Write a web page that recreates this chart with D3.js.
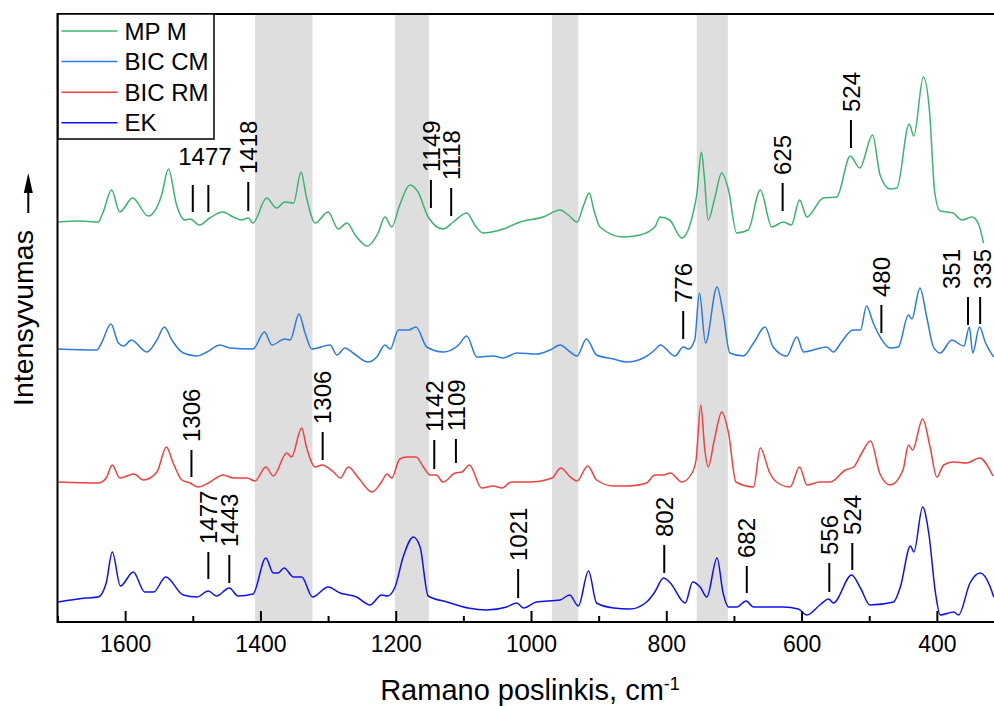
<!DOCTYPE html>
<html>
<head>
<meta charset="utf-8">
<script src="https://cdn.jsdelivr.net/npm/d3@7"></script>
<style>
  body { margin: 0; background: #fff; }
  svg { display: block; font-family: "Liberation Sans", Arial, sans-serif; }
</style>
</head>
<body>
<svg width="994" height="706"></svg>
<script>
// spectra: [Raman shift cm-1, stacked intensity a.u.]
const mpM = [[1699,400],[1667,401],[1640,400],[1633,409],[1620,432],[1608,410],[1589,424],[1566,406],[1546,427],[1536,453],[1524,417],[1512,402],[1504,403],[1490,397],[1475,404],[1456,410],[1440,405],[1428,402],[1418,404],[1411,399],[1391,424],[1376,414],[1364,420],[1351,419],[1340,450],[1332,425],[1319,399],[1300,410],[1285,393],[1272,399],[1260,387],[1242,376],[1226,389],[1216,405],[1206,395],[1194,417],[1179,437],[1167,430],[1152,405],[1130,393],[1115,400],[1095,409],[1083,397],[1071,389],[1041,393],[1016,400],[982,405],[957,412],[945,407],[932,400],[922,417],[914,429],[907,412],[898,395],[864,385],[839,387],[817,395],[809,405],[795,402],[777,384],[760,410],[755,427],[748,470],[744,447],[738,402],[729,422],[718,449],[708,432],[696,389],[679,392],[661,432],[644,395],[627,400],[615,397],[603,422],[592,405],[568,424],[548,425],[528,466],[514,454],[495,487],[484,447],[469,433],[459,434],[441,498],[434,486],[420,545],[411,512],[403,429],[395,411],[376,409],[363,402],[348,405],[339,399],[331,379]];
const bicCM = [[1699,273],[1642,272],[1635,279],[1621,298],[1610,279],[1602,276],[1591,282],[1568,270],[1553,282],[1542,295],[1531,282],[1514,269],[1494,266],[1479,270],[1460,277],[1445,274],[1411,273],[1394,290],[1383,277],[1364,283],[1356,282],[1343,308],[1334,289],[1324,273],[1297,277],[1287,267],[1275,274],[1263,269],[1241,260],[1228,265],[1216,277],[1208,273],[1196,292],[1181,292],[1170,295],[1154,275],[1130,270],[1107,277],[1095,286],[1080,265],[1056,266],[1041,264],[1021,269],[992,268],[972,272],[957,277],[942,270],[932,266],[918,283],[903,267],[878,263],[858,260],[834,264],[817,272],[809,277],[787,266],[775,275],[767,273],[758,282],[751,329],[742,279],[725,335],[716,309],[706,269],[686,266],[671,279],[654,295],[642,275],[622,266],[607,285],[597,270],[572,274],[563,275],[553,270],[541,280],[524,292],[513,292],[504,316],[494,299],[482,283],[469,274],[457,275],[442,307],[437,303],[425,334],[415,305],[405,275],[395,269],[378,282],[360,276],[352,295],[347,269],[337,295],[328,279],[316,265]];
const bicRM = [[1699,140],[1640,139],[1628,144],[1619,157],[1608,144],[1587,148],[1573,142],[1553,150],[1539,175],[1529,159],[1516,142],[1504,139],[1492,135],[1477,139],[1455,147],[1440,144],[1420,144],[1408,141],[1392,155],[1381,146],[1361,169],[1354,165],[1339,194],[1332,175],[1319,155],[1309,157],[1292,150],[1282,144],[1270,155],[1255,144],[1235,130],[1221,140],[1213,148],[1206,144],[1194,163],[1184,165],[1170,165],[1159,155],[1149,147],[1140,147],[1130,140],[1112,149],[1102,150],[1091,157],[1073,134],[1056,136],[1043,134],[1029,140],[1001,140],[969,144],[956,154],[942,145],[932,141],[916,156],[903,142],[878,136],[854,136],[829,139],[817,147],[804,147],[794,149],[777,140],[762,149],[756,162],[749,217],[743,172],[738,155],[729,182],[718,210],[708,189],[697,140],[671,135],[661,174],[647,149],[637,140],[617,135],[603,155],[592,137],[573,140],[558,140],[535,152],[523,155],[511,169],[498,181],[484,148],[469,137],[450,152],[442,177],[436,172],[421,203],[410,175],[400,145],[390,157],[376,160],[356,159],[337,164],[317,146]];
const ek = [[1699,20],[1657,24],[1640,25],[1628,39],[1619,70],[1607,36],[1588,50],[1571,30],[1558,30],[1540,45],[1514,27],[1494,25],[1477,31],[1465,26],[1446,34],[1433,26],[1411,28],[1392,64],[1381,49],[1374,49],[1365,54],[1351,45],[1339,45],[1323,25],[1300,35],[1282,29],[1258,25],[1238,17],[1221,27],[1212,26],[1201,35],[1189,65],[1174,85],[1164,75],[1152,26],[1124,20],[1093,14],[1065,12],[1036,15],[1021,19],[1011,14],[992,20],[957,22],[943,27],[930,16],[915,51],[903,19],[878,14],[854,13],[829,20],[817,30],[804,44],[794,39],[772,19],[761,40],[750,35],[740,25],[725,64],[716,29],[708,15],[696,15],[682,21],[671,15],[627,15],[605,13],[592,7],[573,17],[560,23],[553,19],[526,47],[513,34],[499,17],[464,20],[454,35],[439,76],[434,70],[421,115],[412,89],[402,29],[395,7],[375,10],[368,7],[351,39],[336,49],[321,35],[316,25]];

const seriesNames = ["MP M", "BIC CM", "BIC RM", "EK"];
const seriesColors = ["#3cb371", "#2b7bdf", "#f04040", "#1010f5"];

// shaded regions, cm-1
const bands = [[1408, 1323], [1201, 1151], [969, 930], [755, 709]];

const majorTicks = [1600, 1400, 1200, 1000, 800, 600, 400];
const minorTicks = [1700, 1500, 1300, 1100, 900, 700, 500];

// peak markers: position, label, marker bottom / top (intensity), label shift (cm-1)
const peakMarks = [
  { wn: 1500, text: "", lo: 410, hi: 437 },
  { wn: 1477, text: "", lo: 410, hi: 437 },
  { wn: 1418, text: "1418", lo: 411, hi: 440 },
  { wn: 1148, text: "1149", lo: 414, hi: 442 },
  { wn: 1118, text: "1118", lo: 406, hi: 434 },
  { wn: 628, text: "625", lo: 411, hi: 439 },
  { wn: 527, text: "524", lo: 474, hi: 502 },
  { wn: 775, text: "776", lo: 283, hi: 311 },
  { wn: 482, text: "480", lo: 289, hi: 317 },
  { wn: 354, text: "351", lo: 297, hi: 325, shift: 24 },
  { wn: 336, text: "335", lo: 298, hi: 325, shift: -3 },
  { wn: 1502, text: "1306", lo: 145, hi: 172 },
  { wn: 1308, text: "1306", lo: 162, hi: 190 },
  { wn: 1143, text: "1142", lo: 153, hi: 182 },
  { wn: 1111, text: "1109", lo: 159, hi: 183 },
  { wn: 1477, text: "1477", lo: 43, hi: 70 },
  { wn: 1446, text: "1443", lo: 39, hi: 67 },
  { wn: 1019, text: "1021", lo: 24, hi: 53 },
  { wn: 803, text: "802", lo: 49, hi: 77 },
  { wn: 681, text: "682", lo: 29, hi: 56 },
  { wn: 559, text: "556", lo: 30, hi: 59 },
  { wn: 525, text: "524", lo: 52, hi: 79 },
];
const flatMarks = [{ wn: 1482, text: "1477", at: 457 }];

const svg = d3.select("svg");
const width = +svg.attr("width");
const height = +svg.attr("height");
const margin = { top: 14, right: -10.5, bottom: 84, left: 57.5 };
const innerWidth = width - margin.left - margin.right;
const innerHeight = height - margin.top - margin.bottom;

const x = d3.scaleLinear().domain([1700, 300]).range([margin.left, margin.left + innerWidth]);
const y = d3.scaleLinear().domain([0, 608]).range([margin.top + innerHeight, margin.top]);

svg.append("clipPath").attr("id", "plot-clip")
  .append("rect")
  .attr("x", margin.left).attr("y", margin.top)
  .attr("width", innerWidth).attr("height", innerHeight);

const plot = svg.append("g").attr("clip-path", "url(#plot-clip)");

// grey bands
plot.selectAll(".band")
  .data(bands)
  .enter()
  .append("rect")
  .attr("class", "band")
  .attr("x", (d) => x(d[0]))
  .attr("width", (d) => x(d[1]) - x(d[0]))
  .attr("y", margin.top)
  .attr("height", innerHeight)
  .attr("fill", "#dedede");

const series = [mpM, bicCM, bicRM, ek].map((data, i) => ({
  name: seriesNames[i],
  color: seriesColors[i],
  data,
}));

const line = d3.line()
  .x((d) => x(d[0]))
  .y((d) => y(d[1]))
  .curve(d3.curveMonotoneX);

plot.selectAll(".spectrum")
  .data(series)
  .enter()
  .append("path")
  .attr("class", "spectrum")
  .attr("d", (d) => line(d.data))
  .attr("fill", "none")
  .attr("stroke", (d) => d.color)
  .attr("stroke-width", 1.5)
  .attr("stroke-linejoin", "round");

// peak markers
const marks = svg.append("g");
marks.selectAll("line")
  .data(peakMarks)
  .enter()
  .append("line")
  .attr("x1", (d) => x(d.wn))
  .attr("x2", (d) => x(d.wn))
  .attr("y1", (d) => y(d.lo))
  .attr("y2", (d) => y(d.hi))
  .attr("stroke", "#000")
  .attr("stroke-width", 2);

marks.selectAll("text.rot")
  .data(peakMarks.filter((d) => d.text))
  .enter()
  .append("text")
  .attr("class", "rot")
  .attr("transform", (d) => `translate(${x(d.wn + (d.shift || 0))},${y(d.hi) - 8}) rotate(-90)`)
  .attr("dy", "0.36em")
  .attr("font-size", 24)
  .text((d) => d.text);

marks.selectAll("text.flat")
  .data(flatMarks)
  .enter()
  .append("text")
  .attr("class", "flat")
  .attr("x", (d) => x(d.wn))
  .attr("y", (d) => y(d.at))
  .attr("text-anchor", "middle")
  .attr("font-size", 24)
  .text((d) => d.text);

// x axis, ticks pointing inwards
const axisG = svg.append("g").attr("transform", `translate(0,${y(0)})`);
axisG.call(
  d3.axisBottom(x)
    .tickValues(majorTicks)
    .tickSizeInner(-11)
    .tickSizeOuter(0)
    .tickPadding(14)
    .tickFormat(d3.format("d"))
);
axisG.append("g").call(
  d3.axisBottom(x).tickValues(minorTicks).tickSizeInner(-6).tickSizeOuter(0).tickFormat("")
);
axisG.selectAll(".domain").remove();
axisG.selectAll("line").attr("stroke", "#000").attr("stroke-width", 2);
axisG.selectAll("text")
  .attr("fill", "#000")
  .attr("font-size", 23)
  .attr("font-family", "Liberation Sans, Arial, sans-serif");

// frame
svg.append("rect")
  .attr("x", margin.left)
  .attr("y", margin.top)
  .attr("width", innerWidth)
  .attr("height", innerHeight)
  .attr("fill", "none")
  .attr("stroke", "#000")
  .attr("stroke-width", 2);

// legend
const legend = svg.append("g").attr("transform", `translate(${margin.left},${margin.top})`);
legend.append("rect")
  .attr("x", 0.5).attr("y", 0)
  .attr("width", 156).attr("height", 125)
  .attr("fill", "#fff")
  .attr("stroke", "#000")
  .attr("stroke-width", 1.5);
const item = legend.selectAll(".item")
  .data(series)
  .enter()
  .append("g")
  .attr("class", "item")
  .attr("transform", (d, i) => `translate(0,${17 + i * 30.6})`);
item.append("line")
  .attr("x1", 4).attr("x2", 60)
  .attr("stroke", (d) => d.color)
  .attr("stroke-width", 1.5);
item.append("text")
  .attr("x", 67)
  .attr("y", 8.5)
  .attr("font-size", 24)
  .text((d) => d.name);

// axis titles
const xTitle = svg.append("text")
  .attr("x", 530)
  .attr("y", 700)
  .attr("text-anchor", "middle")
  .attr("font-size", 29);
xTitle.append("tspan").text("Ramano poslinkis, cm");
xTitle.append("tspan").attr("font-size", 18).attr("dy", -10).text("-1");

svg.append("text")
  .attr("transform", "translate(33,318) rotate(-90)")
  .attr("text-anchor", "middle")
  .attr("font-size", 28.5)
  .text("Intensyvumas");

svg.append("line")
  .attr("x1", 28.3).attr("x2", 28.3)
  .attr("y1", 213).attr("y2", 190)
  .attr("stroke", "#000")
  .attr("stroke-width", 2);
svg.append("path")
  .attr("d", "M28.3,173 L23.8,193 L32.8,193 Z")
  .attr("fill", "#000");
</script>
</body>
</html>
